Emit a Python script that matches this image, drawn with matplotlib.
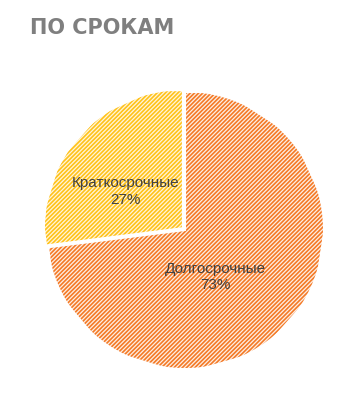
import matplotlib
matplotlib.use("Agg")
import matplotlib.pyplot as plt
import numpy as np

# data
labels = ["Долгосрочные", "Краткосрочные"]
shares = [73, 27]
colors = ["#F47A26", "#FFC21A"]
face_colors = ["#FDEFE6", "#FFF6DC"]
explode = [0, 0.02]

plt.rcParams['hatch.linewidth'] = 1.2

W, H = 364, 395
fig = plt.figure(figsize=(W / 100, H / 100), dpi=100)
cx, cy, r = 185, 230, 138
ax = fig.add_axes([(cx - r) / W, (H - cy - r) / H, 2 * r / W, 2 * r / H])

wedges, _ = ax.pie(shares, colors=colors, startangle=90, counterclock=False,
                   explode=explode, radius=1)
for w, c, fc in zip(wedges, colors, face_colors):
    w.set_facecolor(fc)
    w.set_edgecolor(c)
    w.set_hatch("////////")
    w.set_linewidth(0)
    w.set_clip_on(False)
    # white border on top
    outline = plt.Polygon(w.get_path().vertices, closed=True, fill=False,
                          edgecolor="white", linewidth=1.5,
                          transform=w.get_transform(), clip_on=False)
    ax.add_patch(outline)

# label positions (fraction of radius)
label_pos = [(0.22, -0.34), (-0.43, 0.28)]
for lab, s, (x, y) in zip(labels, shares, label_pos):
    ax.text(x, y, f"{lab}\n{s}%", ha="center", va="center", fontsize=11,
            color="#404040", family="Liberation Sans", linespacing=1.25)

ax.set_xlim(-1, 1)
ax.set_ylim(-1, 1)
ax.set_aspect("equal")
ax.axis("off")

fig.text(30 / W, 1 - 28 / H, "ПО СРОКАМ", fontsize=15, fontweight="bold",
         color="#7F7F7F", family="DejaVu Sans", va="center", ha="left")

fig.savefig("out.png", dpi=100, facecolor="white")
